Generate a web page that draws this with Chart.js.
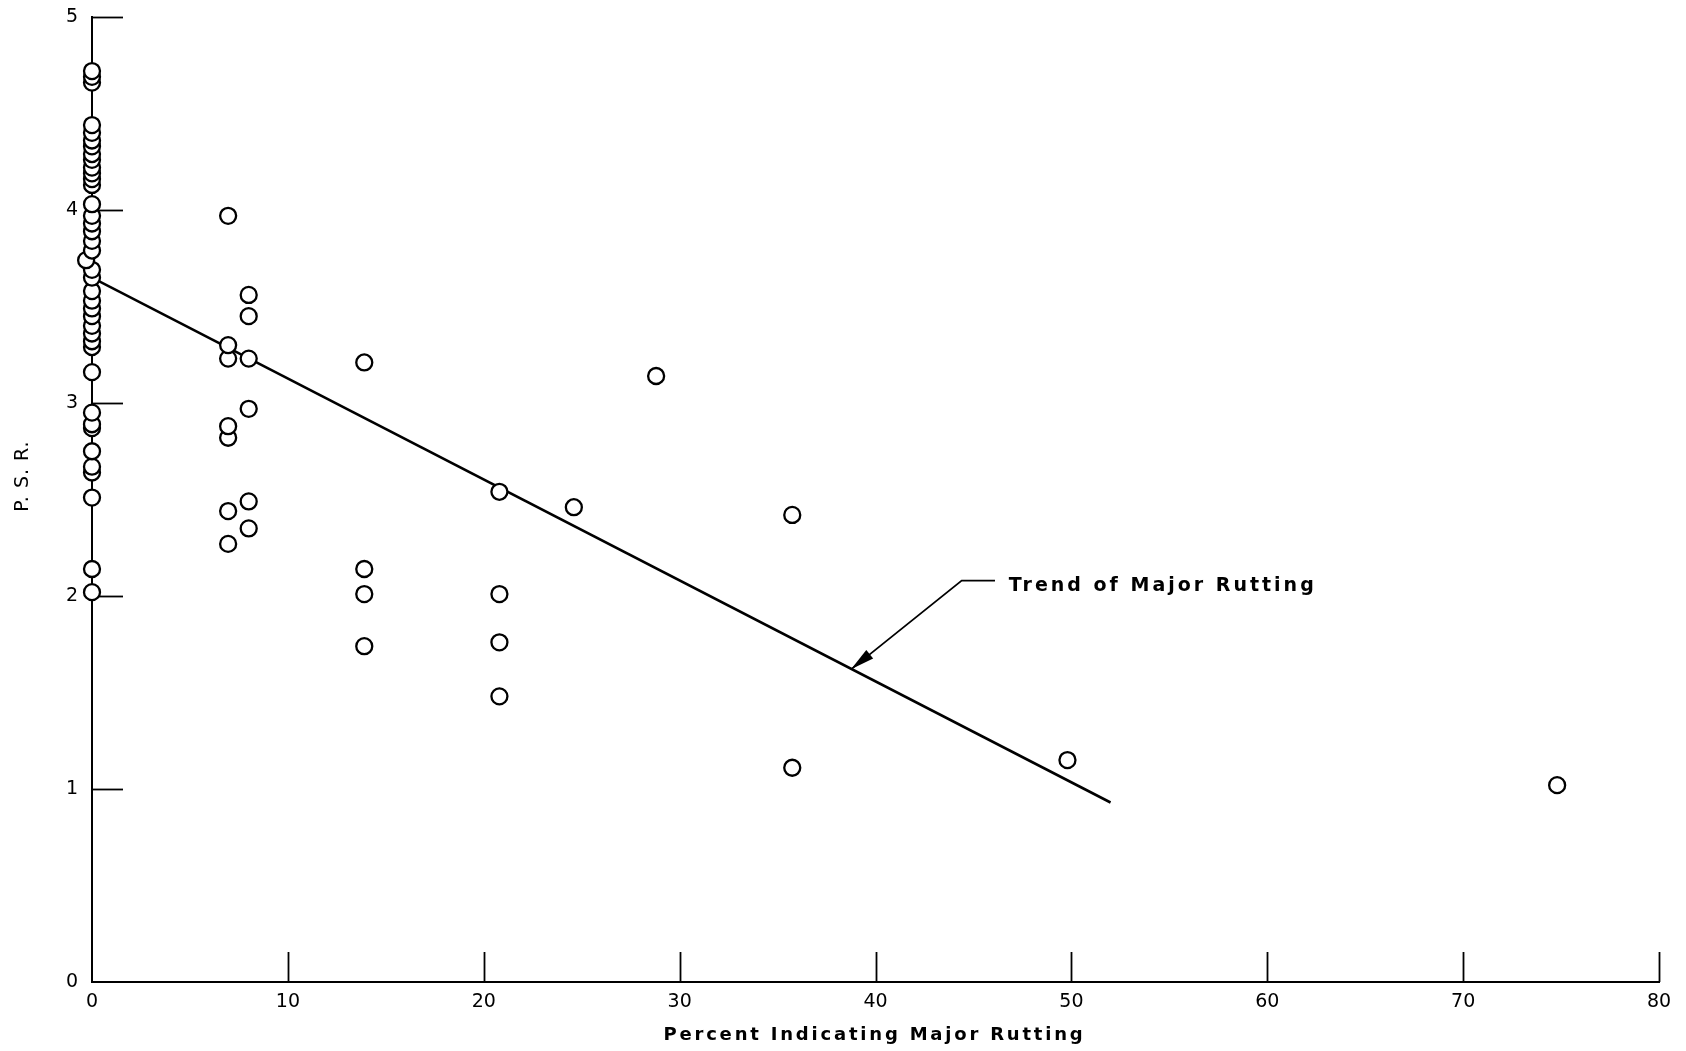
<!DOCTYPE html>
<html><head><meta charset="utf-8">
<script src="https://cdn.jsdelivr.net/npm/chart.js@4.4.1/dist/chart.umd.min.js"></script>
<style>html,body{margin:0;padding:0;background:#fff;overflow:hidden}</style>
</head><body>
<canvas id="c" width="1686" height="1051"></canvas>
<script>
// ---- data ----
const percent = [
  0,0,0,
  0,0,0,0,0,0,0,0,0,0,
  0,0,0,0,0,0,-0.3,0,0,
  0,0,0,0,0,0,0,0,
  0,0,0,0,0,0,0,0,0,0,
  6.95,8,8,6.95,6.95,8,8,6.95,6.95,6.95,8,8,6.95,
  13.9,13.9,13.9,13.9,
  20.8,20.8,20.8,20.8,
  24.6,28.8,35.75,35.75,49.8,74.8
];
const psr = [
  4.72,4.69,4.66,
  4.44,4.40,4.36,4.33,4.29,4.26,4.22,4.19,4.16,4.13,
  4.03,3.97,3.93,3.89,3.84,3.79,3.74,3.69,3.65,
  3.58,3.53,3.49,3.45,3.40,3.36,3.32,3.29,
  3.16,2.95,2.89,2.87,2.75,2.67,2.64,2.51,2.14,2.02,
  3.97,3.56,3.45,3.30,3.23,3.23,2.97,2.88,2.82,2.44,2.49,2.35,2.27,
  3.21,2.14,2.01,1.74,
  2.54,2.01,1.76,1.48,
  2.46,3.14,2.42,1.11,1.15,1.02
];
const trendPercent = [0, 52];
const trendPSR = [3.65, 0.93];
const leaderPercent = [46.1, 44.4, 38.75];
const leaderPSR = [2.08, 2.08, 1.62];
const trendLabel = "Trend of Major Rutting";
const trendLabelAt = [46.8, 2.05];
const xTicks = [0,10,20,30,40,50,60,70,80];
const yTicks = [0,1,2,3,4,5];
const xTitle = "Percent Indicating Major Rutting";
const yTitle = "P. S. R.";

// ---- build datasets ----
const pts = percent.map((p,i)=>({x:p, y:psr[i]})).sort((a,b)=>a.y-b.y);
const trendPts = trendPercent.map((p,i)=>({x:p, y:trendPSR[i]}));
const leaderPts = leaderPercent.map((p,i)=>({x:p, y:leaderPSR[i]}));

const FONT = "'DejaVu Sans', sans-serif";

const overlay = {
  id:'overlay',
  beforeDatasetsDraw(chart){
    const {ctx, scales:{x,y}, chartArea:ca} = chart;
    ctx.save();
    ctx.strokeStyle = '#000';
    ctx.lineWidth = 1.8;
    xTicks.forEach(v=>{
      if (v===0) return;
      const px = Math.round(x.getPixelForValue(v))+0.5;
      ctx.beginPath(); ctx.moveTo(px, ca.bottom); ctx.lineTo(px, ca.bottom-30); ctx.stroke();
    });
    yTicks.forEach(v=>{
      if (v===0) return;
      const py = Math.round(y.getPixelForValue(v))+0.5;
      ctx.beginPath(); ctx.moveTo(ca.left, py); ctx.lineTo(ca.left+31, py); ctx.stroke();
    });
    ctx.restore();
  },
  afterDatasetsDraw(chart){
    const {ctx, scales:{x,y}, chartArea:ca} = chart;
    ctx.save();
    // arrowhead at end of leader
    const n = leaderPercent.length;
    const tx = x.getPixelForValue(leaderPercent[n-1]), ty = y.getPixelForValue(leaderPSR[n-1]);
    const fx = x.getPixelForValue(leaderPercent[n-2]), fy = y.getPixelForValue(leaderPSR[n-2]);
    const ang = Math.atan2(ty-fy, tx-fx);
    const L = 24, W = 5.5;
    ctx.fillStyle = '#000';
    ctx.beginPath();
    ctx.moveTo(tx, ty);
    ctx.lineTo(tx - L*Math.cos(ang) + W*Math.sin(ang), ty - L*Math.sin(ang) - W*Math.cos(ang));
    ctx.lineTo(tx - L*Math.cos(ang) - W*Math.sin(ang), ty - L*Math.sin(ang) + W*Math.cos(ang));
    ctx.closePath(); ctx.fill();
    // annotation text
    ctx.font = "bold 19px " + FONT;
    ctx.letterSpacing = "3px";
    ctx.textAlign = 'left'; ctx.textBaseline = 'middle';
    ctx.fillText(trendLabel, x.getPixelForValue(trendLabelAt[0]), y.getPixelForValue(trendLabelAt[1]));
    // x title
    ctx.font = "bold 18px " + FONT;
    ctx.letterSpacing = "2.8px";
    ctx.textAlign = 'center'; ctx.textBaseline = 'alphabetic';
    ctx.fillText(xTitle, (ca.left+ca.right)/2 - 1, 1040);
    // y title
    ctx.translate(28, 476);
    ctx.rotate(-Math.PI/2);
    ctx.font = "19px " + FONT;
    ctx.letterSpacing = "1px";
    ctx.fillText(yTitle, 0, 0);
    ctx.restore();
  }
};

new Chart(document.getElementById('c'), {
  type: 'scatter',
  data: { datasets: [
    { data: pts, pointRadius: 8, pointBorderWidth: 2.3, borderColor:'#000', backgroundColor:'#fff', pointStyle:'circle', clip:false, order:0 },
    { type:'line', data: trendPts, borderColor:'#000', borderWidth:2.6, pointRadius:0, fill:false, order:1 },
    { type:'line', data: leaderPts, borderColor:'#000', borderWidth:1.8, pointRadius:0, fill:false, order:1 }
  ]},
  options: {
    responsive:false, animation:false,
    devicePixelRatio:1,
    plugins:{ legend:{display:false}, tooltip:{enabled:false} },
    layout:{ padding:{ top:17, right:27, left:0, bottom:0 } },
    scales:{
      x:{ type:'linear', min:0, max:80,
        afterFit(s){ s.height = 69; s.paddingLeft = 0; s.paddingRight = 0; },
        afterBuildTicks(s){ s.ticks = xTicks.map(v=>({value:v})); },
        grid:{ display:false, drawTicks:false },
        border:{ display:true, color:'#000', width:2 },
        ticks:{ color:'#000', font:{ family:FONT, size:19 }, padding:9, maxRotation:0, autoSkip:false } },
      y:{ type:'linear', min:0, max:5,
        afterFit(s){ s.width = 92; s.paddingTop = 0; s.paddingBottom = 0; },
        afterBuildTicks(s){ s.ticks = yTicks.map(v=>({value:v})); },
        grid:{ display:false, drawTicks:false },
        border:{ display:true, color:'#000', width:2 },
        ticks:{ color:'#000', font:{ family:FONT, size:19 }, padding:14, autoSkip:false } }
    }
  },
  plugins:[overlay]
});
</script>
</body></html>
